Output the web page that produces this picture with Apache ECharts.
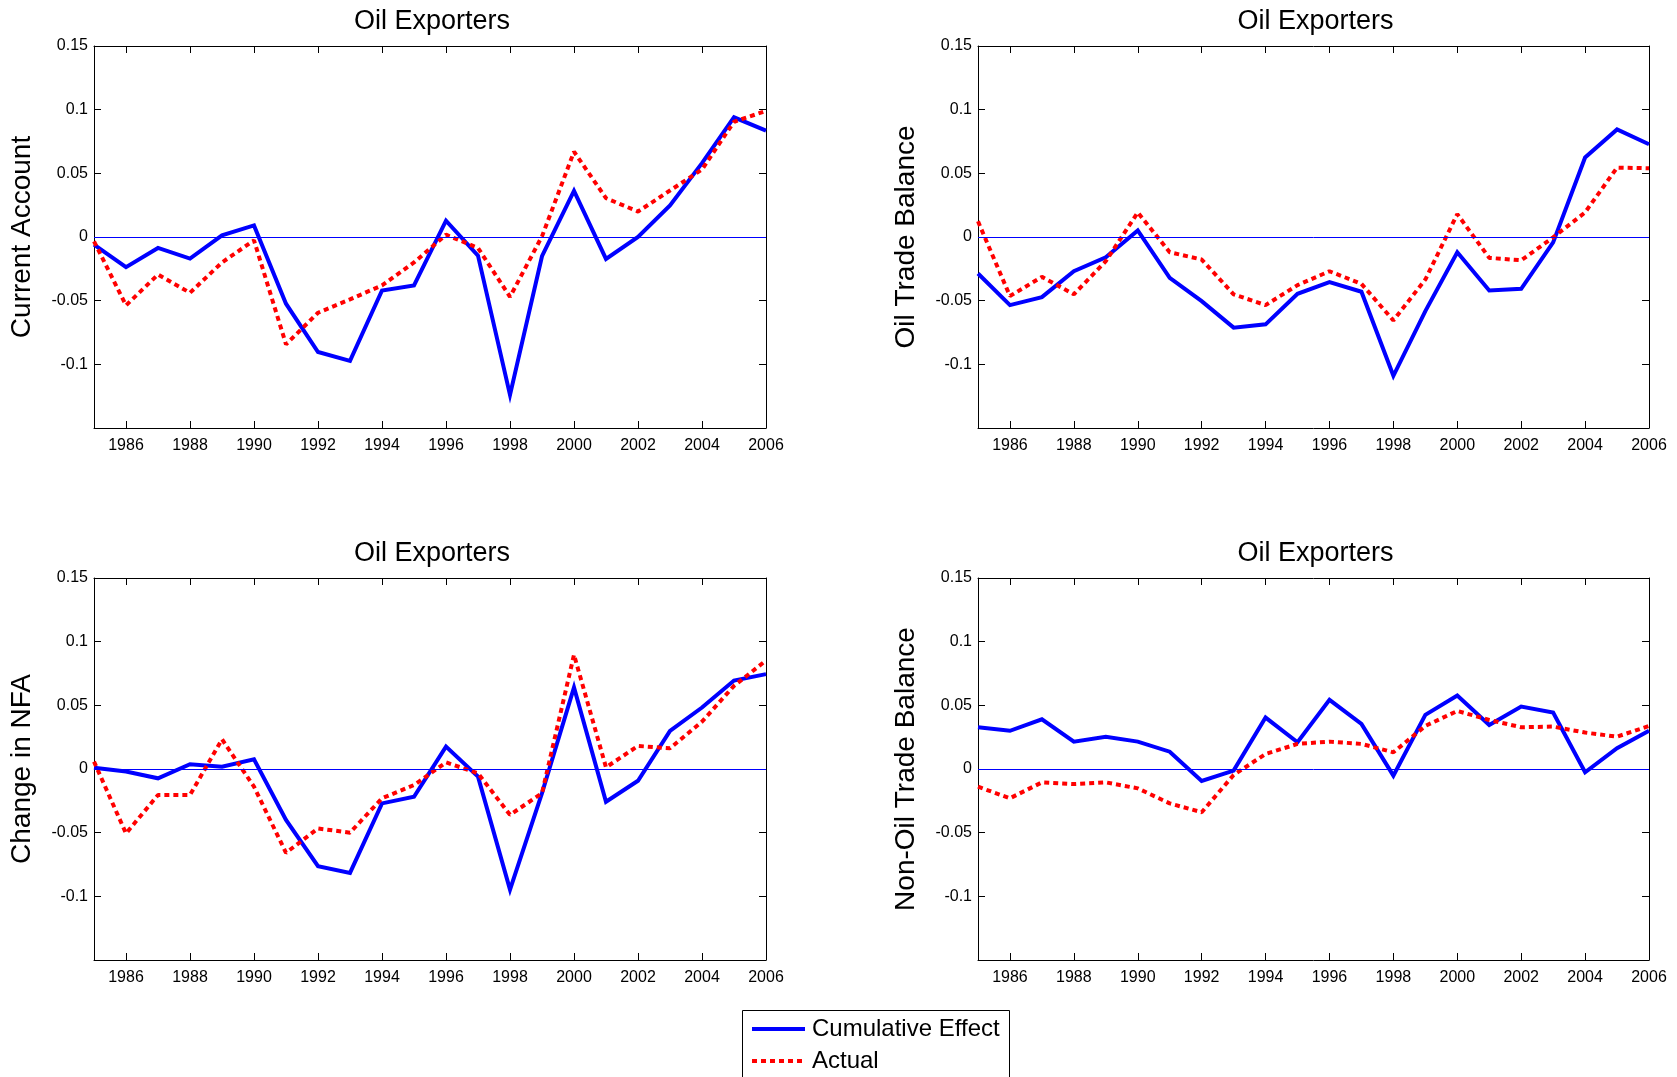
<!DOCTYPE html>
<html>
<head>
<meta charset="utf-8">
<script src="https://cdn.jsdelivr.net/npm/echarts@6/dist/echarts.min.js"></script>
<style>
html,body{margin:0;padding:0;background:#fff;}
#chart{width:1677px;height:1077px;}
</style>
</head>
<body>
<div id="chart"></div>
<script>
// ---------- data ----------
const years = ['1985','1986','1987','1988','1989','1990','1991','1992','1993','1994','1995',
               '1996','1997','1998','1999','2000','2001','2002','2003','2004','2005','2006'];
const yTickLabels = ['0.15','0.1','0.05','0','-0.05','-0.1'];
const panelTitles = ['Oil Exporters','Oil Exporters','Oil Exporters','Oil Exporters'];
const panelYNames = ['Current Account','Oil Trade Balance','Change in NFA','Non-Oil Trade Balance'];
const seriesNames = ['Cumulative Effect','Actual'];

const caCum = [-0.006,-0.0237,-0.0086,-0.017,0.0013,0.0091,-0.0524,-0.0903,-0.0973,-0.042,-0.038,
               0.0128,-0.0146,-0.124,-0.0151,0.0363,-0.0172,0.0,0.0248,0.058,0.094,0.0835];
const caAct = [-0.0034,-0.0537,-0.0295,-0.0438,-0.020,-0.0026,-0.0843,-0.0595,-0.049,-0.038,-0.020,
               0.0018,-0.0086,-0.047,0.0005,0.067,0.0305,0.020,0.0365,0.053,0.0905,0.099];

const otbCum = [-0.0287,-0.0535,-0.0472,-0.0269,-0.0159,0.0052,-0.0321,-0.0504,-0.0712,-0.0686,-0.0446,
                -0.0355,-0.043,-0.109,-0.0582,-0.012,-0.042,-0.0407,-0.0042,0.0624,0.0845,0.0728];
const otbAct = [0.0123,-0.0464,-0.0313,-0.045,-0.019,0.0193,-0.012,-0.0177,-0.045,-0.0535,-0.0378,
                -0.0269,-0.0368,-0.0655,-0.0334,0.018,-0.0164,-0.0183,-0.0003,0.0193,0.0545,0.054];

const nfaCum = [0.001,-0.002,-0.0073,0.0037,0.0018,0.0076,-0.040,-0.0763,-0.0816,-0.027,-0.0218,
                0.0176,-0.006,-0.0947,-0.019,0.064,-0.0257,-0.0092,0.0299,0.0483,0.0695,0.0745];
const nfaAct = [0.0058,-0.0506,-0.0204,-0.0204,0.0233,-0.0139,-0.0658,-0.0467,-0.050,-0.023,-0.0126,
                0.0052,-0.0034,-0.036,-0.019,0.0897,0.0013,0.0181,0.0163,0.0372,0.0653,0.0852];

const notbCum = [0.0328,0.030,0.039,0.0215,0.0254,0.0215,0.0136,-0.0094,-0.0013,0.0404,0.021,
                 0.0543,0.0354,-0.0052,0.0425,0.0577,0.0346,0.049,0.0443,-0.0026,0.0163,0.0301];
const notbAct = [-0.0139,-0.023,-0.0105,-0.0118,-0.0105,-0.0152,-0.027,-0.034,-0.0047,0.0118,0.0197,
                 0.0215,0.0197,0.0131,0.0338,0.0456,0.0385,0.0328,0.0333,0.0286,0.0254,0.0338];

const panelCum = [caCum, otbCum, nfaCum, notbCum];
const panelAct = [caAct, otbAct, nfaAct, notbAct];

// ---------- layout ----------
const grids = [
  {left: 94,  top: 46,  width: 672, height: 382},
  {left: 978, top: 46,  width: 671, height: 382},
  {left: 94,  top: 578, width: 672, height: 382},
  {left: 978, top: 578, width: 671, height: 382}
];
const FONT = 'Liberation Sans, Arial, sans-serif';
const BLUE = '#0000ff', RED = '#ff0000';

const evenYear = (idx, val) => (parseInt(val, 10) % 2 === 0);
function yLabel(v) {
  const r = Math.round(v * 100) / 100;
  const idx = [0.15, 0.1, 0.05, 0, -0.05, -0.1].indexOf(r);
  return idx >= 0 ? yTickLabels[idx] : '';
}

const ICON_SOLID = 'path://M0,0h53v4h-53z';
const ICON_DOTTED = 'path://M0,0h5v4h-5z M9,0h5v4h-5z M18,0h5v4h-5z M27,0h5v4h-5z M36,0h5v4h-5z M45,0h5v4h-5z M53,0h0.01v4h-0.01z';

const legendBase = {
  orient: 'vertical',
  left: 752,
  itemWidth: 53,
  itemHeight: 4,
  padding: 0,
  textStyle: {fontFamily: FONT, fontSize: 24, color: '#000', padding: [0, 0, 0, 2]}
};

const option = {
  backgroundColor: '#fff',
  animation: false,
  title: [],
  grid: [],
  xAxis: [],
  yAxis: [],
  series: [],
  legend: [
    Object.assign({}, legendBase, {top: 1017, data: [{name: seriesNames[0], icon: ICON_SOLID}]}),
    Object.assign({}, legendBase, {top: 1049, data: [{name: seriesNames[1], icon: ICON_DOTTED}]})
  ],
  graphic: [{
    type: 'rect',
    shape: {x: 742.5, y: 1010.5, width: 267, height: 100},
    style: {fill: 'none', stroke: '#000', lineWidth: 1},
    silent: true,
    z: 100
  }]
};

grids.forEach((g, i) => {
  option.grid.push(Object.assign({containLabel: false}, g));
  option.title.push({
    text: panelTitles[i],
    left: g.left + g.width / 2 - 3,
    top: g.top - 43,
    textAlign: 'center',
    textStyle: {fontFamily: FONT, fontSize: 27, fontWeight: 'normal', color: '#000'}
  });
  // bottom x axis
  option.xAxis.push({
    type: 'category', gridIndex: i, data: years, boundaryGap: false, position: 'bottom',
    axisLine: {show: true, onZero: false, lineStyle: {color: '#000', width: 1}},
    axisTick: {show: true, inside: true, length: 7, interval: evenYear, lineStyle: {color: '#000'}},
    axisLabel: {show: true, interval: evenYear, margin: 10, fontFamily: FONT, fontSize: 16, color: '#000'},
    splitLine: {show: false}
  });
  // top x axis (ticks only)
  option.xAxis.push({
    type: 'category', gridIndex: i, data: years, boundaryGap: false, position: 'top',
    axisLine: {show: true, onZero: false, lineStyle: {color: '#000', width: 1}},
    axisTick: {show: true, inside: true, length: 7, interval: evenYear, lineStyle: {color: '#000'}},
    axisLabel: {show: false},
    splitLine: {show: false}
  });
  // left y axis
  option.yAxis.push({
    type: 'value', gridIndex: i, min: -0.15, max: 0.15, interval: 0.05, position: 'left',
    name: panelYNames[i], nameLocation: 'middle', nameGap: 58, nameRotate: 90,
    nameTextStyle: {fontFamily: FONT, fontSize: 28, color: '#000'},
    axisLine: {show: true, onZero: false, lineStyle: {color: '#000', width: 1}},
    axisTick: {show: true, inside: true, length: 7, lineStyle: {color: '#000'}},
    axisLabel: {show: true, margin: 6, fontFamily: FONT, fontSize: 16, color: '#000', formatter: yLabel},
    splitLine: {show: false}
  });
  // right y axis (ticks only)
  option.yAxis.push({
    type: 'value', gridIndex: i, min: -0.15, max: 0.15, interval: 0.05, position: 'right',
    axisLine: {show: true, onZero: false, lineStyle: {color: '#000', width: 1}},
    axisTick: {show: true, inside: true, length: 7, lineStyle: {color: '#000'}},
    axisLabel: {show: false},
    splitLine: {show: false}
  });

  option.series.push({
    name: seriesNames[0], type: 'line', xAxisIndex: 2 * i, yAxisIndex: 2 * i,
    data: panelCum[i], symbol: 'none', smooth: false, z: 3,
    lineStyle: {color: BLUE, width: 4, type: 'solid', join: 'miter'},
    itemStyle: {color: BLUE},
    markLine: {
      silent: true, symbol: 'none', label: {show: false},
      lineStyle: {color: BLUE, width: 1, type: 'solid'},
      data: [{yAxis: 0}]
    }
  });
  option.series.push({
    name: seriesNames[1], type: 'line', xAxisIndex: 2 * i, yAxisIndex: 2 * i,
    data: panelAct[i], symbol: 'none', smooth: false, z: 4,
    lineStyle: {color: RED, width: 4, type: [5, 4]},
    itemStyle: {color: RED}
  });
});

const chart = echarts.init(document.getElementById('chart'), null, {renderer: 'canvas'});
chart.setOption(option);
</script>
</body>
</html>
